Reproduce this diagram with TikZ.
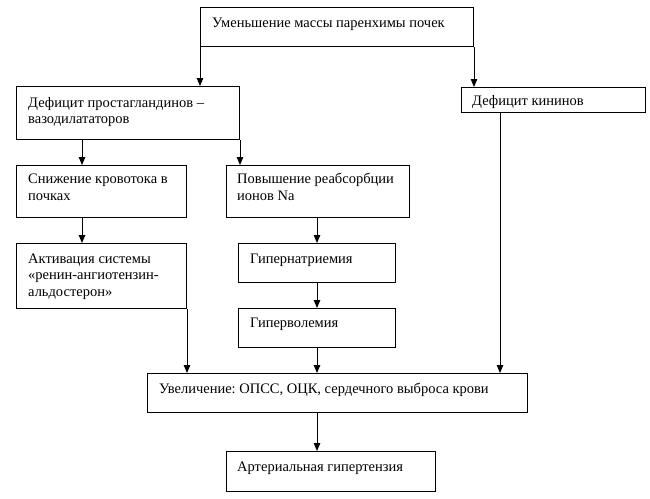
\documentclass[tikz,border=0pt]{standalone}
\usepackage{fontspec}
\setmainfont{Liberation Serif}
\usetikzlibrary{arrows.meta}
\frenchspacing
\begin{document}
\begin{tikzpicture}[x=1pt,y=-1pt,
  box/.style={draw, line width=1pt, anchor=north west, inner sep=0pt},
  lbl/.style={anchor=north west, inner sep=0pt, align=left,
    font=\fontsize{14.5}{16.5}\selectfont},
  arr/.style={-{Triangle[length=8pt,width=6.5pt]}, line width=1pt}]
\useasboundingbox (0,0) rectangle (650,498);
\newcommand\fl{\rule{0pt}{12pt}}
% boxes
\node[box, minimum width=273pt, minimum height=39pt] (top) at (200,7) {};
\node[box, minimum width=223pt, minimum height=53pt] (def) at (16,86) {};
\node[box, minimum width=184pt, minimum height=25pt] (kin) at (461,87) {};
\node[box, minimum width=170pt, minimum height=52pt] (snizh) at (16,165) {};
\node[box, minimum width=183pt, minimum height=52pt] (povysh) at (226,165) {};
\node[box, minimum width=170pt, minimum height=65pt] (aktiv) at (16,243) {};
\node[box, minimum width=157pt, minimum height=39pt] (gnat) at (238,243) {};
\node[box, minimum width=157pt, minimum height=39pt] (gvol) at (238,308) {};
\node[box, minimum width=380pt, minimum height=39pt] (uvel) at (147,373) {};
\node[box, minimum width=209pt, minimum height=40pt] (arter) at (226,451) {};
% texts
\node[lbl] (top-t) at ([xshift=12pt,yshift=-8pt]top.north west) {\fl Уменьшение массы паренхимы почек};
\node[lbl] (def-t) at ([xshift=12pt,yshift=-9pt]def.north west) {\fl Дефицит простагландинов –\\вазодилататоров};
\node[lbl] (kin-t) at ([xshift=11pt,yshift=-6pt]kin.north west) {\fl Дефицит кининов};
\node[lbl] (snizh-t) at ([xshift=12pt,yshift=-6.5pt]snizh.north west) {\fl Снижение кровотока в\\почках};
\node[lbl] (povysh-t) at ([xshift=11pt,yshift=-6.5pt]povysh.north west) {\fl Повышение реабсорбции\\ионов Na};
\node[lbl] (aktiv-t) at ([xshift=12pt,yshift=-8pt]aktiv.north west) {\fl Активация системы\\«ренин-ангиотензин-\\альдостерон»};
\node[lbl] (gnat-t) at ([xshift=12pt,yshift=-8pt]gnat.north west) {\fl Гипернатриемия};
\node[lbl] (gvol-t) at ([xshift=12pt,yshift=-7pt]gvol.north west) {\fl Гиперволемия};
\node[lbl] (uvel-t) at ([xshift=12pt,yshift=-8pt]uvel.north west) {\fl Увеличение: ОПСС, ОЦК, сердечного выброса крови};
\node[lbl] (arter-t) at ([xshift=11pt,yshift=-8.5pt]arter.north west) {\fl Артериальная гипертензия};
% connectors
\coordinate (xa) at (82,0);
\coordinate (xb) at (317,0);
\coordinate (xc) at (500,0);
\draw[arr] (top.south west) -- (def.north -| top.south west);
\draw[arr] (top.south east) -- (kin.north -| top.south east);
\draw[arr] (def.south -| xa) -- (snizh.north -| xa);
\draw[arr] (def.south east) -- (povysh.north -| def.south east);
\draw[arr] (snizh.south -| xa) -- (aktiv.north -| xa);
\draw[arr] (povysh.south -| xb) -- (gnat.north -| xb);
\draw[arr] (gnat.south -| xb) -- (gvol.north -| xb);
\draw[arr] (aktiv.south east) -- (uvel.north -| aktiv.south east);
\draw[arr] (gvol.south -| xb) -- (uvel.north -| xb);
\draw[arr] (kin.south -| xc) -- (uvel.north -| xc);
\draw[arr] (uvel.south -| xb) -- (arter.north -| xb);
\end{tikzpicture}
\end{document}
